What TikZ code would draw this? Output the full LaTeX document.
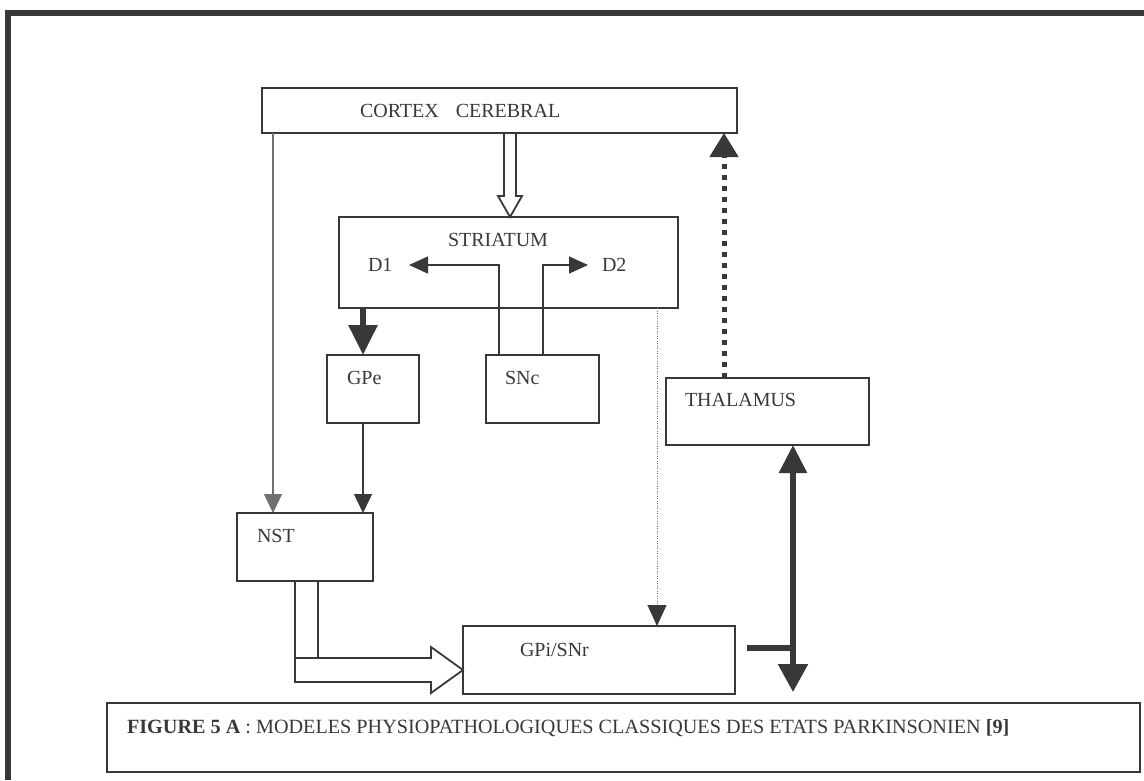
\documentclass[tikz,border=0pt]{standalone}
\usepackage{fontspec}
\setmainfont{Liberation Serif}
\usetikzlibrary{arrows.meta,calc}
\definecolor{ink}{HTML}{38383A}
\definecolor{greyline}{HTML}{707070}
\begin{document}
\begin{tikzpicture}[x=1pt,y=-1pt,
  box/.style={draw=ink,line width=1.8pt,rectangle,inner sep=0pt,outer sep=0pt},
  lbl/.style={anchor=base west,inner sep=0pt,outer sep=0pt,text=ink,font=\fontsize{20}{24}\selectfont},
  thinarrow/.style={draw=ink,line width=1.5pt,-{Triangle[length=19pt,width=18pt]}},
  hollow/.style={draw=ink,line width=1.8pt,line join=miter},
  heavy/.style={draw=ink,line width=5.5pt}
]
\useasboundingbox (0,0) rectangle (1144,780);

% outer frame (left and top sides)
\draw[ink,line width=6pt,line join=miter] (8,780) -- (8,12.5) -- (1144,12.5);

% boxes
\node[box,minimum width=475pt,minimum height=45pt] (cortex) at (499.5,110.5) {};
\node[box,minimum width=339pt,minimum height=91pt] (striatum) at (508.5,262.5) {};
\node[box,minimum width=92pt,minimum height=68pt] (GPe) at (373,389) {};
\node[box,minimum width=113pt,minimum height=68pt] (SNc) at (542.5,389) {};
\node[box,minimum width=203pt,minimum height=67pt] (thalamus) at (767.5,411.5) {};
\node[box,minimum width=136pt,minimum height=68pt] (NST) at (305,547) {};
\node[box,minimum width=272pt,minimum height=68pt] (GPi) at (599,660) {};
\node[box,minimum width=1033pt,minimum height=69pt] (caption) at (623.5,737.5) {};

% labels
\node[lbl] (cortexlbl) at (360,117) {CORTEX\hspace{0.85em}CEREBRAL};
\node[lbl] (striatumlbl) at (448,246) {STRIATUM};
\node[lbl] (d1) at (368,271) {D1};
\node[lbl] (d2) at (602,271) {D2};
\node[lbl] (gpelbl) at (347,384) {GPe};
\node[lbl] (snclbl) at (505,384) {SNc};
\node[lbl] (thallbl) at (685,406) {THALAMUS};
\node[lbl] (nstlbl) at (257,542) {NST};
\node[lbl] (gpilbl) at (520,656) {GPi/SNr};
\node[lbl,font=\fontsize{20.2}{24}\selectfont] (captionlbl) at (127,733) {\textbf{FIGURE 5 A} : MODELES PHYSIOPATHOLOGIQUES CLASSIQUES DES ETATS PARKINSONIEN \textbf{[9]}};

% reference abscissae for vertical connectors
\coordinate (xc) at (273,0);
\coordinate (xh) at (510,0);
\coordinate (xg) at (363,0);
\coordinate (xs1) at (499,0);
\coordinate (xs2) at (543,0);
\coordinate (xd) at (657,0);
\coordinate (xt) at (724,0);
\coordinate (xv) at (793,0);
\coordinate (d1tip) at (409,265);
\coordinate (d2tip) at (588,265);

% cortex -> NST
\draw[thinarrow,draw=greyline,line width=1.3pt] (cortex.south -| xc) -- (NST.north -| xc);

% cortex -> striatum (hollow arrow)
\coordinate (ha) at (cortex.south -| xh);
\coordinate (hb) at (striatum.north -| xh);
\draw[hollow] ($(ha)+(-6,0)$) -- ($(hb)+(-6,-21)$) -- ($(hb)+(-12,-21)$) -- (hb)
  -- ($(hb)+(12,-21)$) -- ($(hb)+(6,-21)$) -- ($(ha)+(6,0)$);

% striatum -> GPe (heavy)
\draw[draw=ink,line width=6pt,-{Triangle[length=30pt,width=28pt]}] (striatum.south -| xg) -- (GPe.north -| xg);

% SNc -> D1 / D2
\draw[draw=ink,line width=1.5pt,-{Triangle[length=19pt,width=17pt]}] (SNc.north -| xs1) |- (d1tip);
\draw[draw=ink,line width=1.5pt,-{Triangle[length=19pt,width=17pt]}] (SNc.north -| xs2) |- (d2tip);

% GPe -> NST
\draw[thinarrow] (GPe.south -| xg) -- (NST.north -| xg);

% striatum -> GPi/SNr (dotted)
\draw[draw=greyline,line width=1pt,dash pattern=on 1pt off 1.5pt,-{Triangle[length=21pt,width=19pt,color=ink]}]
  (striatum.south -| xd) -- (GPi.north -| xd);

% thalamus -> cortex (heavy dotted)
\draw[draw=ink,line width=5pt,dash pattern=on 5pt off 6pt,-{Triangle[length=24pt,width=28pt]}]
  (thalamus.north -| xt) -- (cortex.south -| xt);

% NST -> GPi/SNr (hollow bent arrow)
\coordinate (na) at ($(NST.south west)+(58,0)$);
\coordinate (nb) at ($(NST.south west)+(81,0)$);
\coordinate (nt) at ($(GPi.west)+(0,10)$);
\coordinate (nlo) at ($(nt)+(-32,12)$);
\coordinate (nhi) at ($(nt)+(-32,-12)$);
\draw[hollow] (na) -- (na |- nlo) -- (nlo) -- ($(nlo)+(0,11)$) -- (nt)
  -- ($(nhi)+(0,-11)$) -- (nhi) -- (nb |- nhi) -- (nb);
\draw[hollow] (na |- nhi) -- (nb |- nhi);

% GPi/SNr output and thalamus link
\coordinate (stub) at (747,648);
\coordinate (vend) at (793,692);
\draw[heavy] (stub) -- (stub -| xv);
\draw[heavy,{Triangle[length=28pt,width=27pt]}-{Triangle[length=28pt,width=29pt]}]
  (thalamus.south -| xv) -- (vend);
\end{tikzpicture}
\end{document}
